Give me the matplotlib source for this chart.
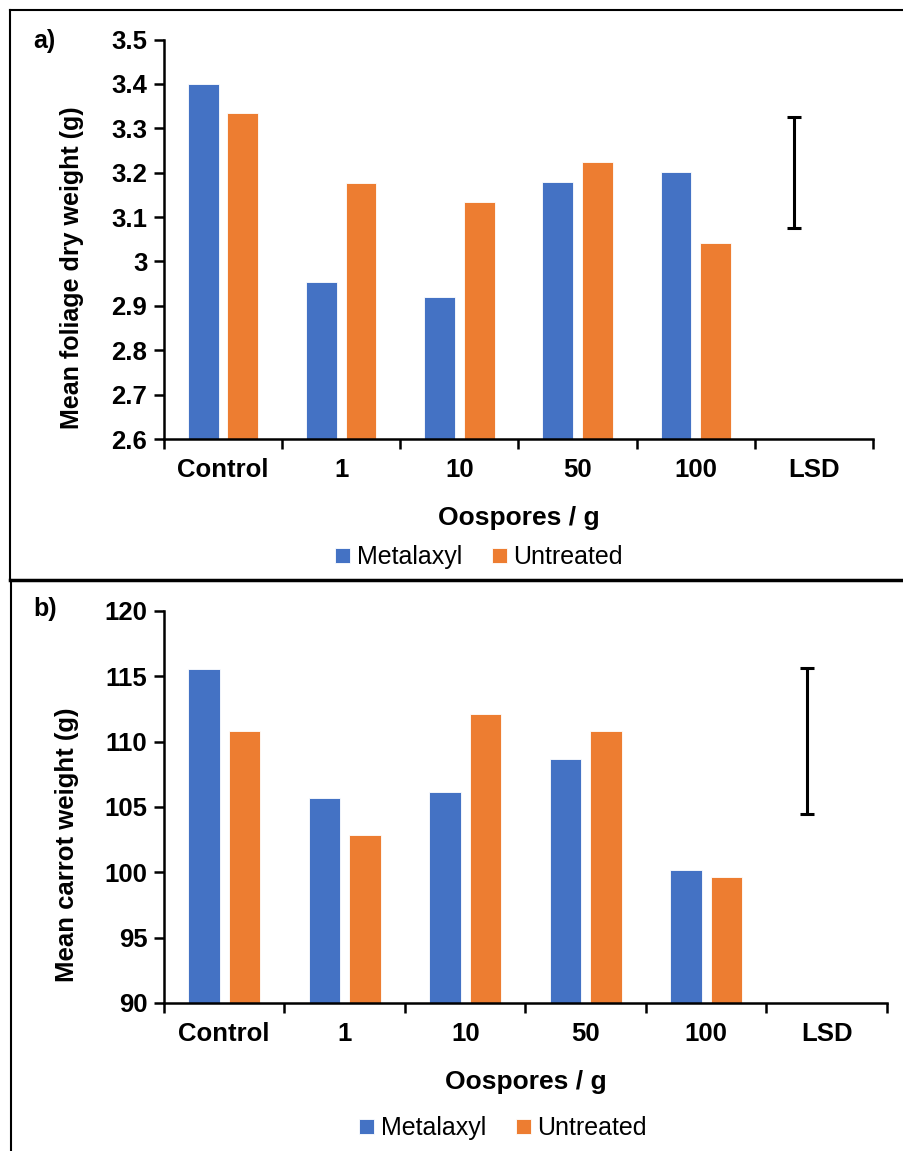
import numpy as np
import matplotlib
matplotlib.use('Agg')
import matplotlib.pyplot as plt
from matplotlib.lines import Line2D
from matplotlib.patches import Patch

plt.rcParams['font.family'] = ['Liberation Sans', 'DejaVu Sans']

categories = ['Control', '1', '10', '50', '100', 'LSD']

# foliage dry weight (g)
foliage_metalaxyl = [3.40, 2.954, 2.920, 3.179, 3.201]
foliage_untreated = [3.334, 3.177, 3.134, 3.223, 3.041]
foliage_lsd = 0.25
foliage_lsd_mid = 3.20

# carrot weight (g)
carrot_metalaxyl = [115.56, 105.69, 106.15, 108.68, 100.18]
carrot_untreated = [110.82, 102.86, 112.12, 110.82, 99.65]
carrot_lsd = 11.17
carrot_lsd_mid = 110.05

BLUE = '#4472C4'
ORANGE = '#ED7D31'
W, H = 904, 1151


def fx(x):
    return x / W


def fy(y):
    return 1 - y / H


def panel(ax, met, unt, lsd_mid, lsd, ylim, yticks, yfmt):
    x = np.arange(len(met))
    ax.bar(x - 0.167, met, width=0.26, color=BLUE, edgecolor='white', linewidth=0.6,
           zorder=2)
    ax.bar(x + 0.167, unt, width=0.26, color=ORANGE, edgecolor='white', linewidth=0.6,
           zorder=2)
    # LSD bar drawn at the first-series slot of the last category
    ax.errorbar([len(categories) - 1 - 0.167], [lsd_mid], yerr=[lsd / 2], fmt='none',
                ecolor='black', elinewidth=2.2, capsize=5, capthick=2.2, zorder=3)
    ax.set_ylim(*ylim)
    ax.set_xlim(-0.5, len(categories) - 0.5)
    ax.set_yticks(yticks)
    ax.set_yticklabels([yfmt(v) for v in yticks])
    ax.set_xticks(np.arange(len(categories)))
    ax.set_xticklabels(categories)
    ax.set_xticks(np.arange(len(categories) + 1) - 0.5, minor=True)
    ax.tick_params(axis='x', which='major', length=0, pad=14)
    ax.tick_params(axis='x', which='minor', length=7, width=1.8, direction='out')
    ax.tick_params(axis='y', length=7, width=1.8, direction='out', pad=5)
    for lab in ax.get_xticklabels() + ax.get_yticklabels():
        lab.set_fontsize(18.5)
        lab.set_fontweight('bold')
    for s in ['top', 'right']:
        ax.spines[s].set_visible(False)
    for s in ['left', 'bottom']:
        ax.spines[s].set_linewidth(1.8)
    ax.set_xlabel('Oospores / g', fontsize=19, fontweight='bold', labelpad=17)


fig = plt.figure(figsize=(W / 100, H / 100), dpi=100)

ax1 = fig.add_axes([fx(164), fy(439), fx(873) - fx(164), (439 - 39.5) / H])
panel(ax1, foliage_metalaxyl, foliage_untreated, foliage_lsd_mid, foliage_lsd,
      (2.6, 3.5), np.round(np.arange(2.6, 3.51, 0.1), 1), lambda v: '%g' % v)

ax2 = fig.add_axes([fx(164), fy(1003), fx(887) - fx(164), (1003 - 611) / H])
panel(ax2, carrot_metalaxyl, carrot_untreated, carrot_lsd_mid, carrot_lsd,
      (90, 120), np.arange(90, 121, 5), lambda v: '%d' % v)

fig.text(fx(72), fy(268), 'Mean foliage dry weight (g)', rotation=90, ha='center',
         va='center', fontsize=18, fontweight='bold')
fig.text(fx(67), fy(845), 'Mean carrot weight (g)', rotation=90, ha='center',
         va='center', fontsize=18.5, fontweight='bold')
fig.text(fx(33), fy(41), 'a)', ha='left', va='center', fontsize=18, fontweight='bold')
fig.text(fx(33), fy(609), 'b)', ha='left', va='center', fontsize=18, fontweight='bold')

handles = [Patch(facecolor=BLUE, edgecolor='white', linewidth=0.6, label='Metalaxyl'),
           Patch(facecolor=ORANGE, edgecolor='white', linewidth=0.6, label='Untreated')]
for cx, cy in [(479, 557), (503, 1128)]:
    fig.legend(handles=handles, loc='center', bbox_to_anchor=(fx(cx), fy(cy)), ncol=2,
               frameon=False, fontsize=18, handlelength=0.6, handleheight=0.55,
               handletextpad=0.25, columnspacing=1.2, borderpad=0)

# panel frames
frame = [((10, 904), (10, 10), 1.5), ((10, 10), (10, 580), 1.5),
         ((10, 904), (580, 580), 2.5), ((11, 11), (580, 1151), 1.5)]
for xs, ys, lw in frame:
    fig.add_artist(Line2D([fx(xs[0]), fx(xs[1])], [fy(ys[0]), fy(ys[1])],
                          transform=fig.transFigure, color='black', linewidth=lw))

fig.savefig('out.png', dpi=100)
